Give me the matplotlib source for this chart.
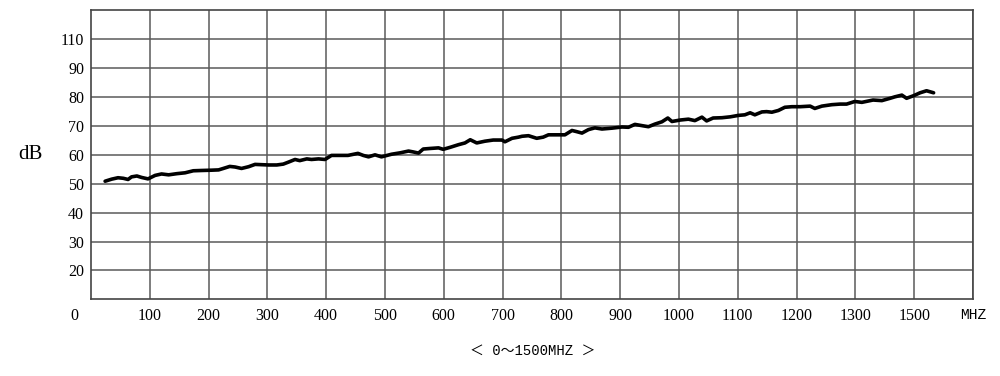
import matplotlib

matplotlib.use("Agg")
import matplotlib.pyplot as plt

# Response curve (frequency in MHz, level in dB).
freq_mhz = [
    24, 35, 46, 55, 63, 69, 78, 86, 97, 109, 120, 132, 146, 160, 174, 188,
    205, 217, 225, 236, 245, 256, 268, 279, 290, 302, 316, 327, 336, 347,
    355, 367, 375, 387, 398, 409, 421, 437, 454, 463, 472, 483, 494, 511,
    526, 540, 548, 557, 565, 577, 591, 599, 611, 625, 636, 645, 656, 670,
    684, 699, 704, 716, 727, 733, 744, 758, 769, 778, 795, 806, 818, 826,
    835, 846, 857, 869, 886, 903, 914, 925, 939, 948, 959, 971, 981, 988,
    1002, 1016, 1027, 1039, 1047, 1058, 1073, 1087, 1101, 1112, 1121, 1129,
    1141, 1149, 1158, 1169, 1180, 1192, 1206, 1223, 1231, 1243, 1260, 1274,
    1285, 1299, 1311, 1330, 1345, 1359, 1367, 1379, 1387, 1399, 1410, 1421,
    1433,
]
level_db = [
    50.8, 51.5, 52.0, 51.8, 51.4, 52.3, 52.6, 52.1, 51.6, 52.8, 53.3, 53.0,
    53.4, 53.7, 54.4, 54.5, 54.6, 54.7, 55.2, 55.9, 55.7, 55.2, 55.8, 56.6,
    56.5, 56.4, 56.4, 56.7, 57.4, 58.3, 57.9, 58.5, 58.3, 58.5, 58.3, 59.7,
    59.7, 59.7, 60.4, 59.7, 59.2, 59.9, 59.2, 60.1, 60.6, 61.2, 60.9, 60.5,
    61.9, 62.1, 62.3, 61.8, 62.5, 63.4, 64.0, 65.1, 64.0, 64.6, 65.0, 65.0,
    64.4, 65.6, 66.0, 66.3, 66.5, 65.6, 66.0, 66.8, 66.8, 66.8, 68.3, 67.9,
    67.4, 68.6, 69.2, 68.8, 69.1, 69.5, 69.4, 70.4, 69.9, 69.6, 70.5, 71.3,
    72.6, 71.4, 71.9, 72.2, 71.7, 72.9, 71.6, 72.6, 72.7, 73.0, 73.5, 73.7,
    74.4, 73.7, 74.7, 74.8, 74.6, 75.2, 76.3, 76.5, 76.5, 76.7, 75.9, 76.7,
    77.2, 77.4, 77.4, 78.3, 78.0, 78.8, 78.6, 79.4, 79.9, 80.5, 79.4, 80.3,
    81.3, 82.0, 81.3,
]

# Tick positions and the labels printed on the original chart (it has its own quirks).
x_ticks = [100, 200, 300, 400, 500, 600, 700, 800, 900, 1000, 1100, 1200, 1300, 1400, 1500]
x_labels = ["100", "200", "300", "400", "500", "600", "700", "800", "900",
            "1000", "1100", "1200", "1300", "1500", "MHZ"]
y_ticks = [20, 30, 40, 50, 60, 70, 80, 90, 100]
y_labels = ["20", "30", "40", "50", "60", "70", "80", "90", "110"]

SERIF = ["Liberation Serif", "DejaVu Serif"]
MONO = ["Liberation Mono", "Noto Sans CJK SC", "DejaVu Sans"]

fig = plt.figure(figsize=(10.0, 3.76), dpi=100)
ax = fig.add_axes([0.091, 0.2035, 0.882, 0.771])

ax.plot(freq_mhz, level_db, color="black", lw=2.6, solid_capstyle="round",
        solid_joinstyle="round", zorder=3)

ax.set_xlim(0, 1500)
ax.set_ylim(10, 110)
ax.set_xticks(x_ticks)
ax.set_xticklabels(x_labels)
ax.set_yticks(y_ticks)
ax.set_yticklabels(y_labels)
ax.tick_params(length=0, labelsize=11.5, colors="black")
ax.tick_params(axis="x", pad=6)
ax.tick_params(axis="y", pad=5)
for lab in ax.get_xticklabels() + ax.get_yticklabels():
    lab.set_family(SERIF)
mhz = ax.get_xticklabels()[-1]
mhz.set_family(MONO)
mhz.set_fontsize(10.5)

ax.grid(True, color="#5a5a5a", lw=1.1)
ax.set_axisbelow(True)
for sp in ax.spines.values():
    sp.set_color("#444444")
    sp.set_linewidth(1.2)

# origin "0" sits left of the corner
ax.annotate("0", xy=(0, 0), xycoords=("data", "axes fraction"),
            xytext=(-12, -6), textcoords="offset points",
            ha="center", va="top", fontsize=11.5, family=SERIF)

fig.text(0.030, 0.590, "dB", ha="center", va="center", fontsize=15, family=SERIF)
fig.text(0.533, 0.066, "＜ 0～1500MHZ ＞", ha="center", va="center",
         fontsize=10, family=MONO)

fig.savefig("out.png", dpi=100, facecolor="white")
